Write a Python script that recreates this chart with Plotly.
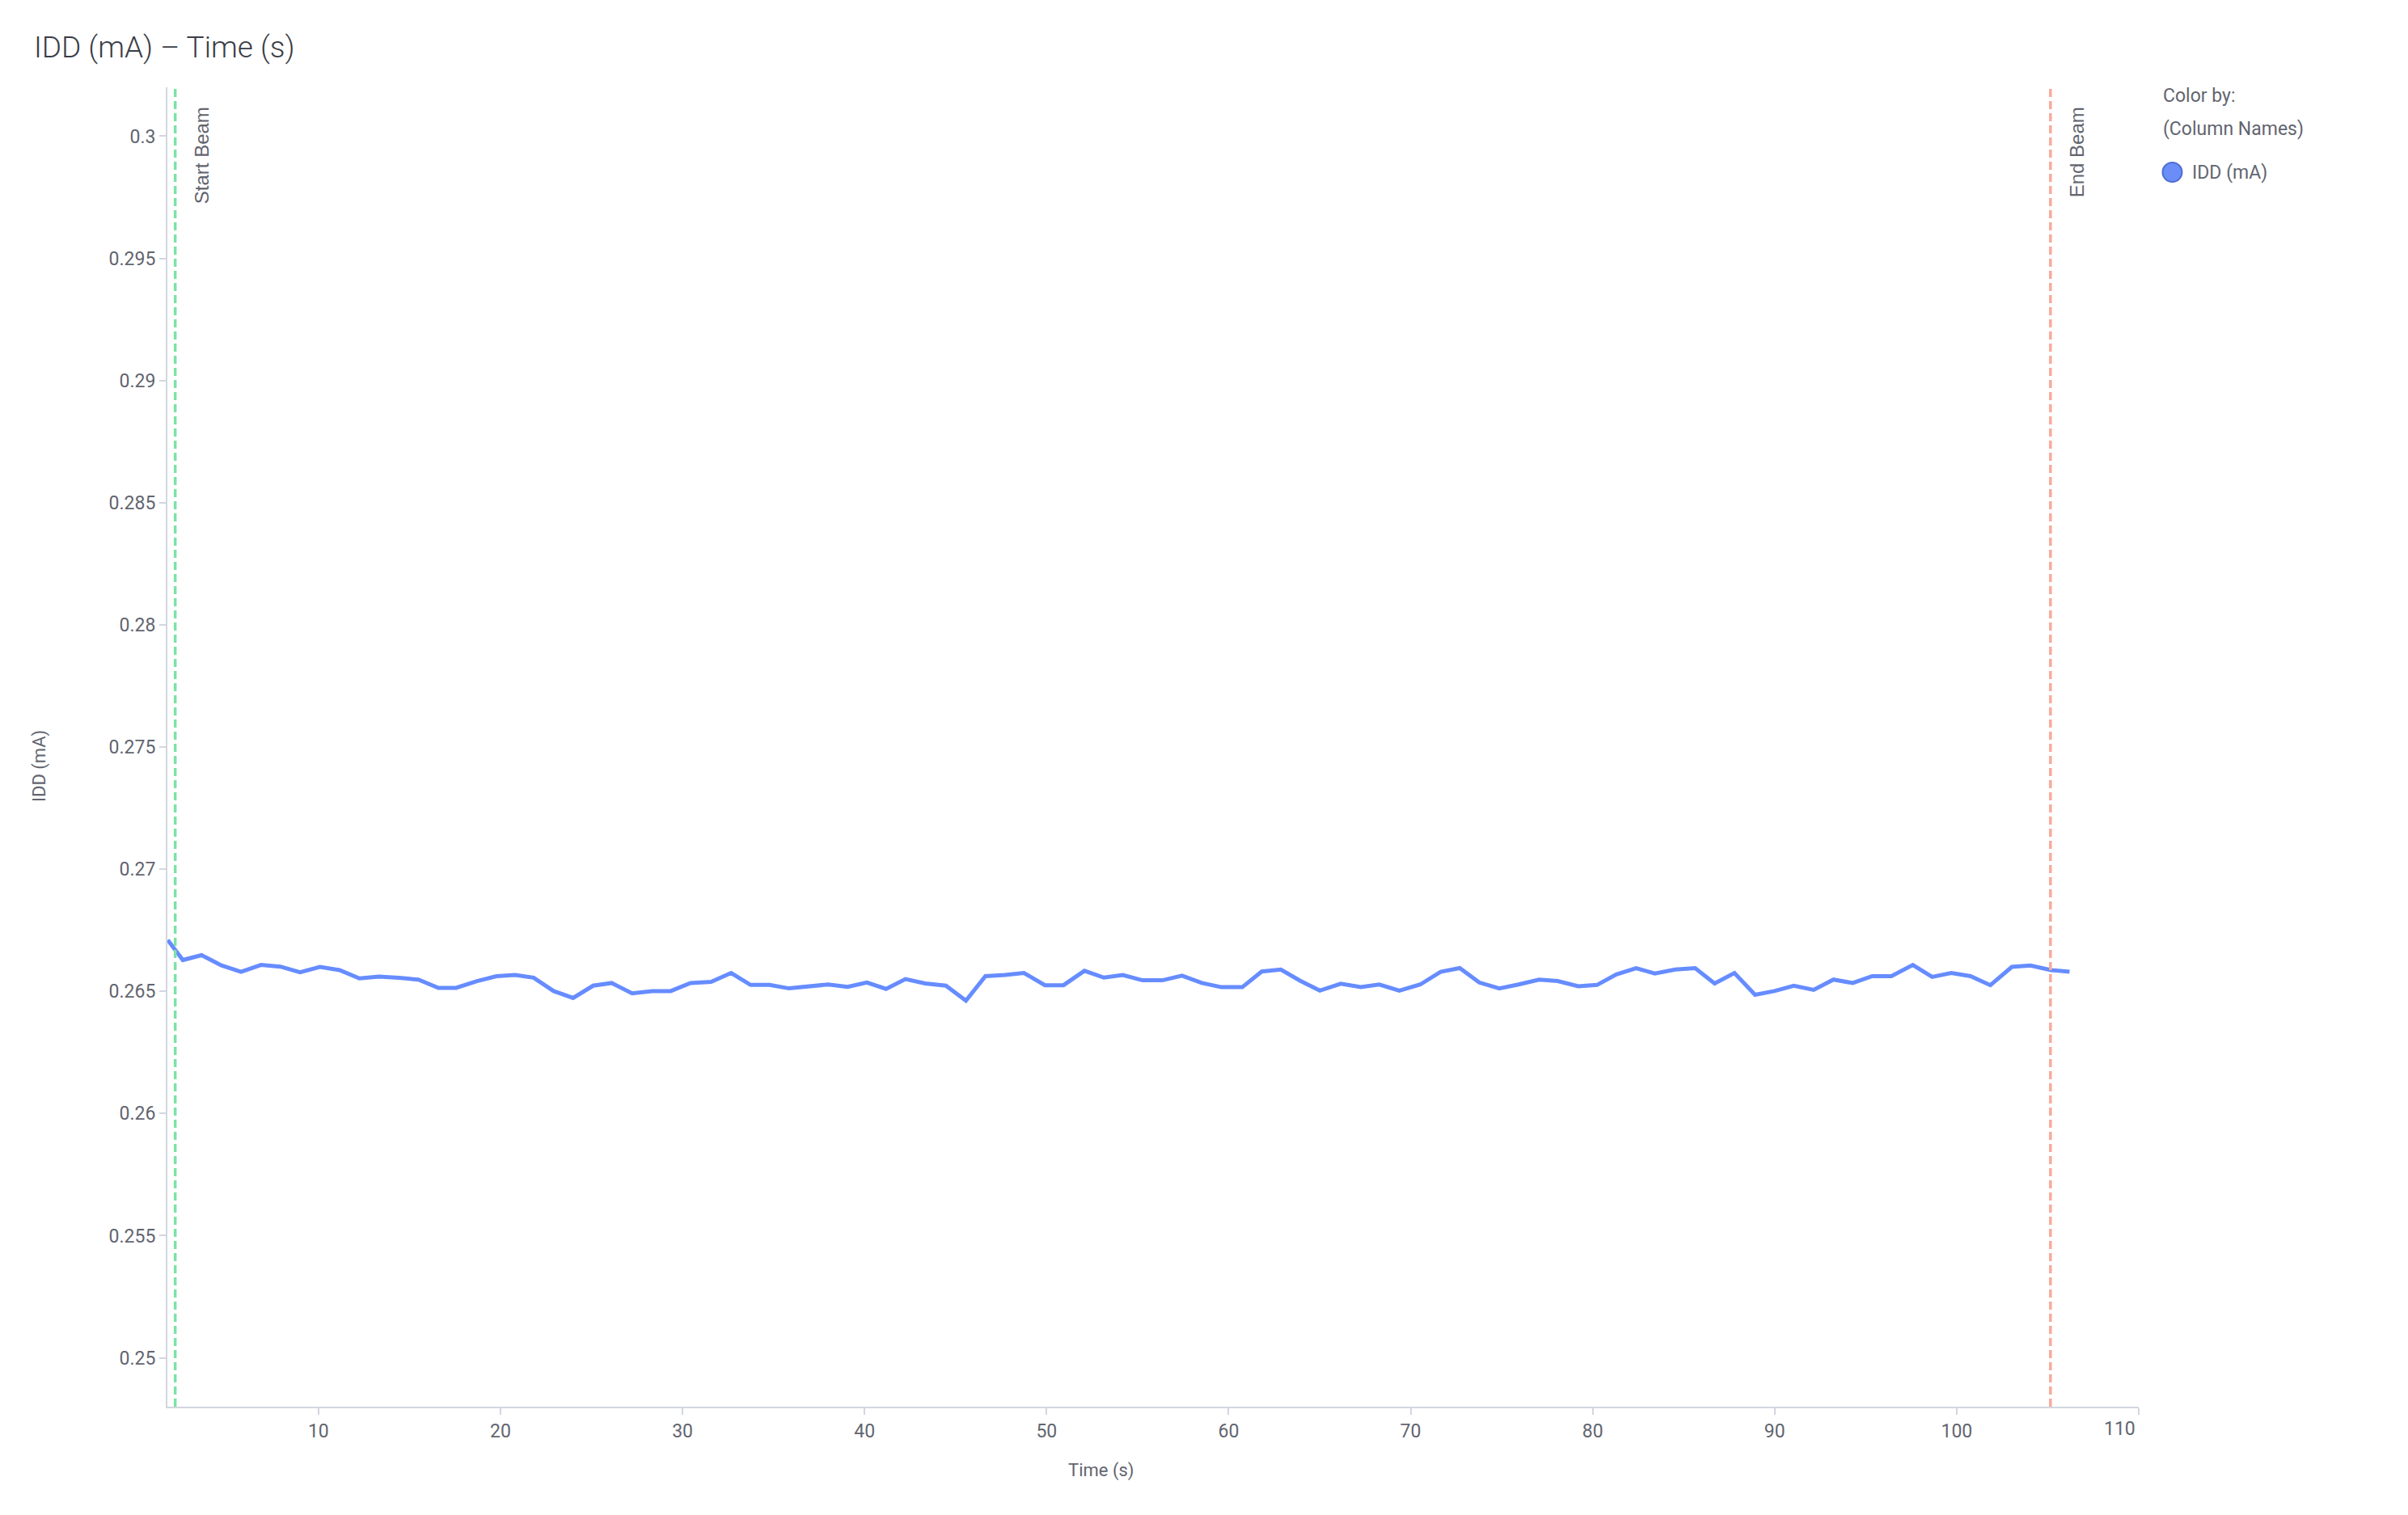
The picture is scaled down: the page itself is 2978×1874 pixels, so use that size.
import plotly.graph_objects as go

# ---- data ----
time_s = [
    1.72, 2.55, 3.58, 4.67, 5.75, 6.84, 7.91, 8.99, 10.08, 11.16,
    12.25, 13.32, 14.42, 15.49, 16.59, 17.56, 18.71, 19.78, 20.80, 21.82,
    22.92, 23.99, 25.09, 26.11, 27.23, 28.33, 29.35, 30.44, 31.57, 32.67,
    33.74, 34.78, 35.85, 36.93, 38.00, 39.07, 40.13, 41.18, 42.25, 43.33,
    44.47, 45.57, 46.64, 47.71, 48.76, 49.91, 50.93, 52.08, 53.15, 54.19,
    55.27, 56.36, 57.44, 58.53, 59.61, 60.75, 61.82, 62.87, 63.94, 65.01,
    66.16, 67.26, 68.28, 69.38, 70.53, 71.65, 72.70, 73.77, 74.87, 75.93,
    77.06, 78.08, 79.21, 80.24, 81.30, 82.39, 83.41, 84.54, 85.63, 86.70,
    87.79, 88.92, 89.99, 91.05, 92.14, 93.23, 94.29, 95.36, 96.41, 97.59,
    98.65, 99.70, 100.76, 101.85, 103.03, 104.05, 105.18, 106.20,
]
idd_ma = [
    0.26710, 0.26628, 0.26648, 0.26606, 0.26580, 0.26608, 0.26601, 0.26578, 0.26600, 0.26587,
    0.26553, 0.26560, 0.26555, 0.26548, 0.26514, 0.26514, 0.26542, 0.26562, 0.26567, 0.26556,
    0.26501, 0.26473, 0.26523, 0.26534, 0.26492, 0.26501, 0.26501, 0.26534, 0.26539, 0.26575,
    0.26526, 0.26526, 0.26512, 0.26521, 0.26528, 0.26518, 0.26536, 0.26510, 0.26550, 0.26532,
    0.26523, 0.26462, 0.26562, 0.26567, 0.26575, 0.26525, 0.26525, 0.26584, 0.26556, 0.26567,
    0.26545, 0.26545, 0.26564, 0.26534, 0.26517, 0.26517, 0.26581, 0.26589, 0.26543, 0.26503,
    0.26531, 0.26517, 0.26528, 0.26503, 0.26528, 0.26580, 0.26595, 0.26536, 0.26512, 0.26528,
    0.26548, 0.26542, 0.26521, 0.26526, 0.26569, 0.26595, 0.26573, 0.26589, 0.26595, 0.26532,
    0.26575, 0.26486, 0.26501, 0.26523, 0.26506, 0.26548, 0.26534, 0.26562, 0.26562, 0.26608,
    0.26559, 0.26575, 0.26562, 0.26525, 0.26600, 0.26606, 0.26587, 0.26580,
]
start_beam_s = 2.13
end_beam_s = 105.15
x_tick_vals = [10, 20, 30, 40, 50, 60, 70, 80, 90, 100, 110]
x_tick_text = ["10", "20", "30", "40", "50", "60", "70", "80", "90", "100", ""]
y_tick_vals = [0.25, 0.255, 0.26, 0.265, 0.27, 0.275, 0.28, 0.285, 0.29, 0.295, 0.3]
y_tick_text = ["0.25", "0.255", "0.26", "0.265", "0.27", "0.275", "0.28", "0.285", "0.29", "0.295", "0.3"]
series_name = "IDD (mA)"

# ---- style ----
FONT = "Roboto"
LINE_BLUE = "#668CFF"
AXIS_GREY = "#D3D6E0"
TEXT_GREY = "#62656F"
GREEN = "#7DE2A6"
SALMON = "#F8AA9B"

OFF = 8  # default page margin of the html body
W, H = 2978 - OFF, 1874 - OFF
PAGE_L, PAGE_R, PAGE_T, PAGE_B = 207, 2645, 108, 1740  # plot area in page pixels
ML = PAGE_L - OFF
MT = PAGE_T - OFF
MR = W - (PAGE_R - OFF)
MB = H - (PAGE_B - OFF)
PW = PAGE_R - PAGE_L
PH = PAGE_B - PAGE_T


def px_x(px):
    return (px - PAGE_L) / PW


def px_y(py):
    return (PAGE_B - py) / PH


fig = go.Figure()
fig.add_trace(go.Scatter(
    x=time_s, y=idd_ma, mode="lines", name=series_name,
    line=dict(color=LINE_BLUE, width=5), showlegend=False,
))

shapes = []
annotations = []
for xv, col, label in [(start_beam_s, GREEN, "Start Beam"), (end_beam_s, SALMON, "End Beam")]:
    shapes.append(dict(type="line", xref="x", yref="paper", x0=xv, x1=xv, y0=0, y1=1,
                       line=dict(color=col, width=3.5, dash="10px,5px")))
    annotations.append(dict(xref="x", yref="paper", x=xv, y=1, xanchor="left", yanchor="top",
                            xshift=17, yshift=-22, text=label, textangle=-90, showarrow=False,
                            font=dict(family="Liberation Sans", size=24, color=TEXT_GREY)))

# legend (drawn manually to match the large circle)
annotations.append(dict(xref="paper", yref="paper", x=px_x(2673), y=px_y(119), xanchor="left",
                        yanchor="middle", text="Color by:", showarrow=False,
                        font=dict(family=FONT, size=23, color=TEXT_GREY)))
annotations.append(dict(xref="paper", yref="paper", x=px_x(2673), y=px_y(159), xanchor="left",
                        yanchor="middle", text="(Column Names)", showarrow=False,
                        font=dict(family=FONT, size=23, color=TEXT_GREY)))
annotations.append(dict(xref="paper", yref="paper", x=px_x(2709), y=px_y(213), xanchor="left",
                        yanchor="middle", text=series_name, showarrow=False,
                        font=dict(family=FONT, size=23, color=TEXT_GREY)))
shapes.append(dict(type="circle", xref="paper", yref="paper", xsizemode="pixel", ysizemode="pixel",
                   xanchor=px_x(2686.5), yanchor=px_y(213), x0=-12, x1=12, y0=-12, y1=12,
                   fillcolor="#6A8DF7", line=dict(color="#4F6ED2", width=2)))

# axis titles
annotations.append(dict(xref="paper", yref="paper", x=px_x(49), y=px_y(948), xanchor="center",
                        yanchor="middle", text="IDD (mA)", textangle=-90, showarrow=False,
                        font=dict(family=FONT, size=22, color=TEXT_GREY)))
annotations.append(dict(xref="paper", yref="paper", x=px_x(1361), y=px_y(1819), xanchor="center",
                        yanchor="middle", text="Time (s)", showarrow=False,
                        font=dict(family=FONT, size=22, color=TEXT_GREY)))
# last x tick label, kept inside the axis end
annotations.append(dict(xref="x", yref="paper", x=110, y=px_y(1767), xanchor="right",
                        yanchor="middle", xshift=-2, text="110", showarrow=False,
                        font=dict(family=FONT, size=23, color=TEXT_GREY)))

fig.update_layout(
    width=W, height=H,
    margin=dict(l=ML, r=MR, t=MT, b=MB),
    paper_bgcolor="white", plot_bgcolor="white",
    title=dict(text="IDD (mA) – Time (s)", x=(42 - OFF) / W, xanchor="left", xref="container",
               y=1 - (58 - OFF) / H, yanchor="middle", yref="container",
               font=dict(family=FONT, size=37, color="#3A3D46", weight=300)),
    showlegend=False,
    shapes=shapes,
    annotations=annotations,
    font=dict(family=FONT, size=23, color=TEXT_GREY),
)
fig.update_xaxes(
    range=[1.70, 110], showgrid=False, zeroline=False,
    showline=True, linecolor=AXIS_GREY, linewidth=2,
    ticks="outside", ticklen=8, tickwidth=2, tickcolor=AXIS_GREY,
    tickvals=x_tick_vals, ticktext=x_tick_text,
    tickfont=dict(family=FONT, size=23, color=TEXT_GREY),
)
fig.update_yaxes(
    range=[0.248, 0.302], showgrid=False, zeroline=False,
    showline=True, linecolor=AXIS_GREY, linewidth=2,
    ticks="outside", ticklen=8, tickwidth=2, tickcolor=AXIS_GREY,
    tickvals=y_tick_vals, ticktext=y_tick_text,
    tickfont=dict(family=FONT, size=23, color=TEXT_GREY),
)

fig.write_html("out.html")
